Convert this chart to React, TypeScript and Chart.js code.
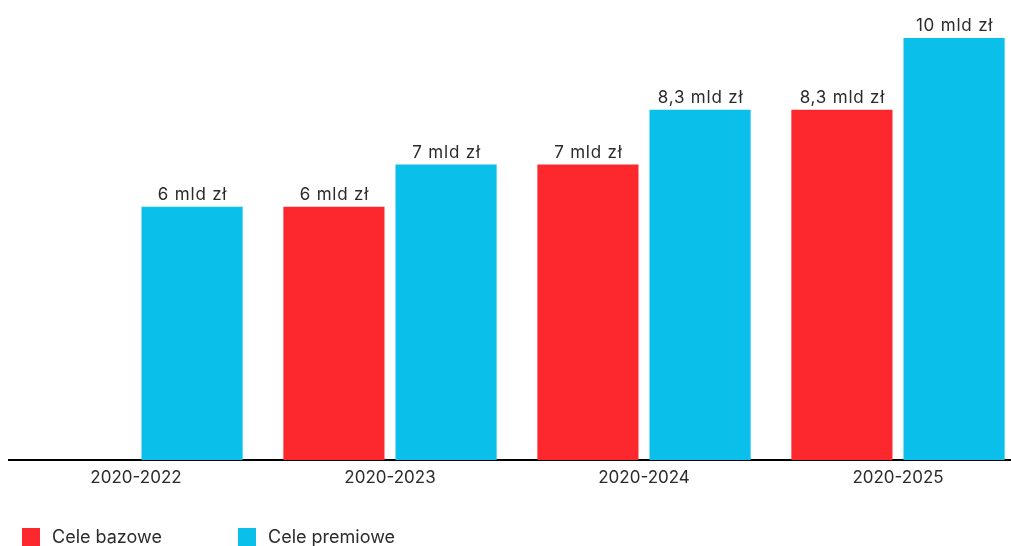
import React, { useEffect, useRef } from "react";
import { Chart, registerables } from "chart.js";

Chart.register(...registerables);

const categories = ["2020-2022", "2020-2023", "2020-2024", "2020-2025"];
const baseTargets: (number | null)[] = [null, 6, 7, 8.3];
const premiumTargets: (number | null)[] = [6, 7, 8.3, 10];
const seriesNames = ["Cele bazowe", "Cele premiowe"];
const seriesColors = ["#FC282E", "#0ABFEA"];
const unitLabel = "mld zł";

const FONT = "Inter, 'Open Sans', sans-serif";
const W = 1025;
const H = 560;
const AXIS_Y = 460;

function fmt(v: number) {
  return String(v).replace(".", ",") + " " + unitLabel;
}

const overlayPlugin = {
  id: "overlay",
  afterDatasetsDraw(chart: any) {
    const ctx = chart.ctx;
    ctx.save();
    ctx.font = `17px ${FONT}`;
    try { (ctx as any).letterSpacing = "0.8px"; } catch (e) {}
    ctx.fillStyle = "#2b2b2b";
    ctx.textAlign = "center";
    ctx.textBaseline = "alphabetic";
    chart.data.datasets.forEach((ds: any, di: number) => {
      const meta = chart.getDatasetMeta(di);
      meta.data.forEach((el: any, i: number) => {
        const v = ds.data[i];
        if (v == null) return;
        ctx.fillText(fmt(v), el.x + 0.5, el.y - 7);
      });
    });
    try { (ctx as any).letterSpacing = "0px"; } catch (e) {}
    // legend
    const top = chart.chartArea.bottom + 68;
    const items = [
      { x: 22, label: seriesNames[0], color: seriesColors[0] },
      { x: 238, label: seriesNames[1], color: seriesColors[1] },
    ];
    ctx.font = `18px ${FONT}`;
    ctx.textAlign = "left";
    ctx.textBaseline = "middle";
    items.forEach((it) => {
      ctx.fillStyle = it.color;
      ctx.fillRect(it.x, top, 18, 18);
      ctx.fillStyle = "#2b2b2b";
      ctx.fillText(it.label, it.x + 30, top + 10);
    });
    ctx.restore();
  },
};

export default function App() {
  const ref = useRef<HTMLCanvasElement>(null);
  useEffect(() => {
    if (!ref.current) return;
    const chart = new Chart(ref.current, {
      type: "bar",
      data: {
        labels: categories,
        datasets: [
          {
            label: seriesNames[0],
            data: baseTargets,
            backgroundColor: seriesColors[0],
            categoryPercentage: 0.883,
            barPercentage: 0.902,
          },
          {
            label: seriesNames[1],
            data: premiumTargets,
            backgroundColor: seriesColors[1],
            categoryPercentage: 0.883,
            barPercentage: 0.902,
          },
        ],
      },
      options: {
        responsive: false,
        animation: false,
        devicePixelRatio: 1,
        layout: { padding: { left: 9, right: 0, top: 0, bottom: 0 } },
        plugins: {
          legend: { display: false },
          tooltip: { enabled: false },
        },
        scales: {
          x: {
            grid: { display: false, drawTicks: false },
            border: { display: true, color: "#000000", width: 2 },
            ticks: {
              color: "#2b2b2b",
              font: { family: FONT, size: 17 },
              padding: 8,
            },
            afterFit(scale: any) {
              scale.height = H - AXIS_Y;
            },
          },
          y: {
            display: false,
            min: 0,
            max: 10.9,
          },
        },
      },
      plugins: [overlayPlugin],
    });
    return () => chart.destroy();
  }, []);
  return (
    <div
      style={{
        position: "absolute",
        left: 0,
        top: 0,
        width: 1011,
        height: 546,
        overflow: "hidden",
        background: "#ffffff",
      }}
    >
      <canvas ref={ref} width={W} height={H} style={{ width: W, height: H, display: "block" }} />
    </div>
  );
}
